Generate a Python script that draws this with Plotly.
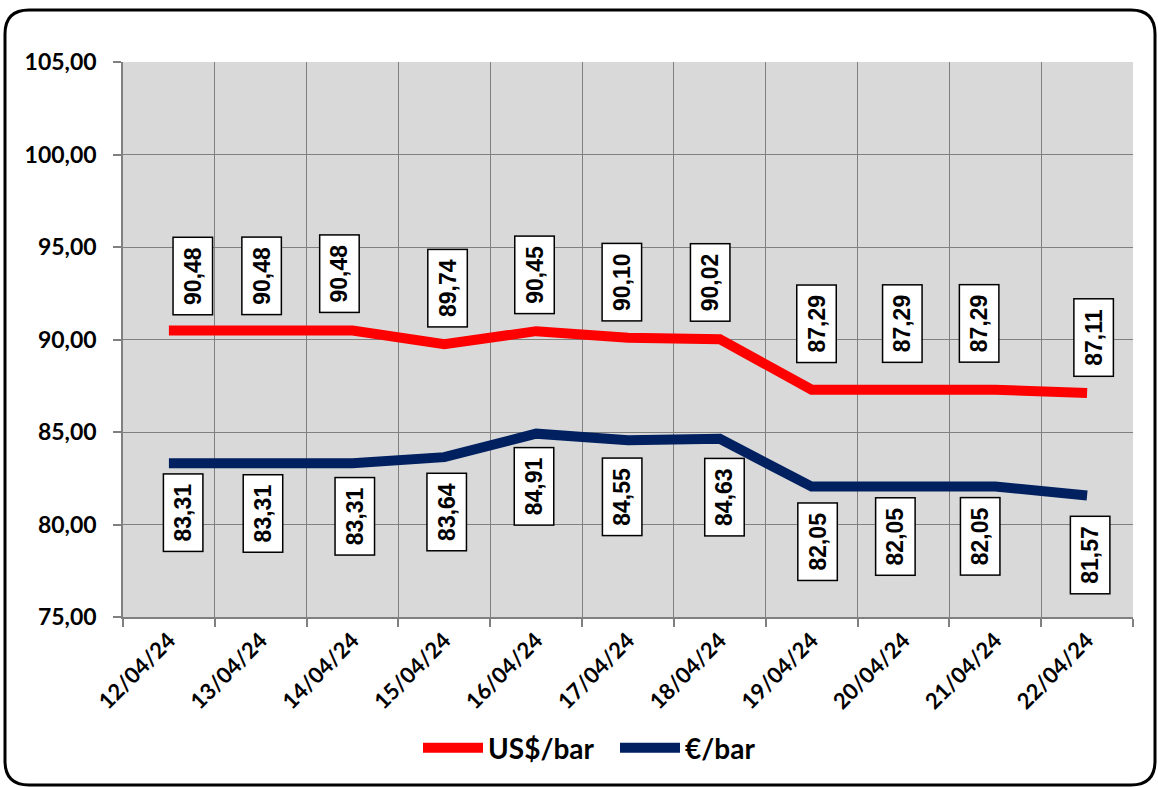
import plotly.graph_objects as go

dates = ["12/04/24", "13/04/24", "14/04/24", "15/04/24", "16/04/24", "17/04/24",
         "18/04/24", "19/04/24", "20/04/24", "21/04/24", "22/04/24"]
usd_bar = [90.48, 90.48, 90.48, 89.74, 90.45, 90.10, 90.02, 87.29, 87.29, 87.29, 87.11]
eur_bar = [83.31, 83.31, 83.31, 83.64, 84.91, 84.55, 84.63, 82.05, 82.05, 82.05, 81.57]

# label placement offsets (pixels) as in the reference
usd_dx = [24, 1, -13, 3, -2, -6, -10, 5, -1, -16, 7]
usd_dy = [55, 55, 57, 56, 56, 55, 57, 66, 66, 66, 55]
eur_dx = [14, 2, 2, 2, -2, -6, 5, 6, -8, -15, 3]
eur_dy = [-49, -50, -53, -55, -53, -57, -58, -55, -50, -50, -60]

W, H = 1158, 787
L, R, T, B = 123, 1133, 62, 617

RED = "#FF0000"
NAVY = "#002060"
AX_FONT = "Lato"

fig = go.Figure()
fig.add_trace(go.Scatter(x=dates, y=usd_bar, mode="lines", name="US$/bar",
                         line=dict(color=RED, width=10)))
fig.add_trace(go.Scatter(x=dates, y=eur_bar, mode="lines", name="€/bar",
                         line=dict(color=NAVY, width=10)))

def fmt(v):
    return f"{v:.2f}".replace(".", ",")

annos = []
for vals, dxs, dys in ((usd_bar, usd_dx, usd_dy), (eur_bar, eur_dx, eur_dy)):
    for d, v, dx, dy in zip(dates, vals, dxs, dys):
        annos.append(dict(x=d, y=v, xref="x", yref="y", text=fmt(v), showarrow=False,
                          xshift=dx, yshift=dy, textangle=-90,
                          font=dict(family="Liberation Sans, Arial", size=23, color="black",
                                    weight=600),
                          bgcolor="white", bordercolor="black", borderwidth=1.5,
                          borderpad=2, width=72, height=34))

def X(px):
    return (px - L) / (R - L)

def Y(py):
    return (B - py) / (B - T)

bl, br, bt, bb, rad = 5, 1155, 10, 785, 24
path = (f"M {X(bl+rad)},{Y(bt)} L {X(br-rad)},{Y(bt)} "
        f"Q {X(br)},{Y(bt)} {X(br)},{Y(bt+rad)} "
        f"L {X(br)},{Y(bb-rad)} Q {X(br)},{Y(bb)} {X(br-rad)},{Y(bb)} "
        f"L {X(bl+rad)},{Y(bb)} Q {X(bl)},{Y(bb)} {X(bl)},{Y(bb-rad)} "
        f"L {X(bl)},{Y(bt+rad)} Q {X(bl)},{Y(bt)} {X(bl+rad)},{Y(bt)} Z")

fig.update_layout(
    width=W, height=H,
    margin=dict(l=L, r=W - R, t=T, b=H - B),
    paper_bgcolor="white",
    plot_bgcolor="#D9D9D9",
    separators=",.",
    showlegend=True,
    legend=dict(orientation="h", x=X(418), xanchor="left", y=Y(748),
                yanchor="middle", itemwidth=60, entrywidth=122, entrywidthmode="pixels",
                font=dict(family=AX_FONT, size=28, color="black", weight="bold"),
                bgcolor="rgba(0,0,0,0)"),
    annotations=annos,
    shapes=[dict(type="path", path=path, xref="paper", yref="paper",
                 line=dict(color="black", width=3), fillcolor="rgba(0,0,0,0)",
                 layer="above")],
)

fig.update_xaxes(
    type="category", range=[-0.5, len(dates) - 0.5], tickson="boundaries",
    showgrid=True, gridcolor="#808080", gridwidth=1,
    ticks="outside", ticklen=8, tickcolor="#808080", tickwidth=1.5,
    tickangle=-45, showline=True, linecolor="#808080", linewidth=1.5,
    tickfont=dict(family=AX_FONT, size=22, color="black", weight="bold"),
    mirror=False, zeroline=False,
)
fig.update_yaxes(
    range=[75, 105], dtick=5, tick0=75, tickformat=".2f",
    showgrid=True, gridcolor="#808080", gridwidth=1,
    ticks="outside", ticklen=8, tickcolor="#808080", tickwidth=1.5,
    showline=True, linecolor="#808080", linewidth=1.5,
    ticklabelstandoff=12,
    tickfont=dict(family=AX_FONT, size=23, color="black", weight="bold"),
    zeroline=False,
)

fig.write_html("out.html", config={"displayModeBar": False},
               post_script="document.body.style.margin='0';document.body.style.overflow='hidden';")
